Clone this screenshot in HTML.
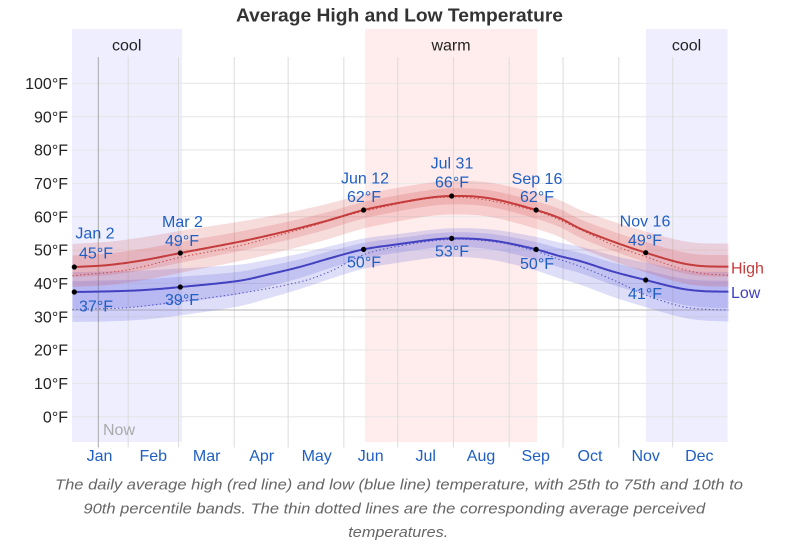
<!DOCTYPE html>
<html>
<head>
<meta charset="utf-8">
<style>
  html, body { margin: 0; padding: 0; background: #fff; }
  body { width: 800px; height: 559px; overflow: hidden; }
  svg { display: block; }
  text { font-family: "Liberation Sans", Arial, sans-serif; }
</style>
</head>
<body>
<svg id="chart" width="800" height="559" viewBox="0 0 800 559" xmlns="http://www.w3.org/2000/svg">
  <!-- season bands -->
  <rect x="72" y="29" width="110" height="413" fill="#eeeeff"/>
  <rect x="365" y="29" width="172" height="413" fill="#ffeded"/>
  <rect x="646" y="29" width="81.5" height="413" fill="#eeeeff"/>
  <text x="126.7" y="50.5" font-size="16" text-anchor="middle" fill="#222">cool</text>
  <text x="451" y="50.5" font-size="16" text-anchor="middle" fill="#222">warm</text>
  <text x="686.5" y="50.5" font-size="16" text-anchor="middle" fill="#222">cool</text>

  <!-- title -->
  <text x="399.5" y="21.5" font-size="18" font-weight="bold" text-anchor="middle" fill="#333" textLength="327" lengthAdjust="spacingAndGlyphs">Average High and Low Temperature</text>

  <g id="grid"></g>
  <g id="data"></g>

  <!-- y axis labels -->
  <g font-size="16" fill="#222" text-anchor="end">
    <text x="68" y="89">100°F</text>
    <text x="68" y="122.4">90°F</text>
    <text x="68" y="155.7">80°F</text>
    <text x="68" y="189">70°F</text>
    <text x="68" y="222.4">60°F</text>
    <text x="68" y="255.7">50°F</text>
    <text x="68" y="289">40°F</text>
    <text x="68" y="322.4">30°F</text>
    <text x="68" y="355.7">20°F</text>
    <text x="68" y="389">10°F</text>
    <text x="68" y="422.4">0°F</text>
  </g>

  <!-- month labels -->
  <g font-size="16" fill="#1f5fc4" text-anchor="middle">
    <text x="99.5" y="461">Jan</text>
    <text x="153.3" y="461">Feb</text>
    <text x="206.7" y="461">Mar</text>
    <text x="261.7" y="461">Apr</text>
    <text x="316.7" y="461">May</text>
    <text x="370.7" y="461">Jun</text>
    <text x="425.7" y="461">Jul</text>
    <text x="481" y="461">Aug</text>
    <text x="535.7" y="461">Sep</text>
    <text x="590" y="461">Oct</text>
    <text x="645.7" y="461">Nov</text>
    <text x="699.3" y="461">Dec</text>
  </g>

  <text x="103" y="435" font-size="16" fill="#aaa">Now</text>

  <!-- point labels -->
  <g font-size="16" fill="#1f5fc4" text-anchor="middle">
    <text x="95" y="238.5">Jan 2</text>
    <text x="96" y="258.5">45°F</text>
    <text x="96" y="311.5">37°F</text>

    <text x="182.5" y="227">Mar 2</text>
    <text x="182" y="246">49°F</text>
    <text x="182" y="304.8">39°F</text>

    <text x="365" y="183.5">Jun 12</text>
    <text x="364" y="202">62°F</text>
    <text x="364" y="267.5">50°F</text>

    <text x="452" y="168.5">Jul 31</text>
    <text x="452" y="187.5">66°F</text>
    <text x="452" y="256.5">53°F</text>

    <text x="537" y="183.8">Sep 16</text>
    <text x="537" y="202.2">62°F</text>
    <text x="537" y="268.8">50°F</text>

    <text x="645" y="226.5">Nov 16</text>
    <text x="645" y="245.5">49°F</text>
    <text x="645" y="298.8">41°F</text>
  </g>

  <text x="731" y="273.3" font-size="16" fill="#c43c3c">High</text>
  <text x="731" y="297.9" font-size="16" fill="#4040bb">Low</text>

  <!-- caption -->
  <g font-size="15" font-style="italic" fill="#666" text-anchor="middle">
    <text x="399" y="489.5" textLength="688" lengthAdjust="spacingAndGlyphs">The daily average high (red line) and low (blue line) temperature, with 25th to 75th and 10th to</text>
    <text x="394.3" y="513.5" textLength="621.7" lengthAdjust="spacingAndGlyphs">90th percentile bands. The thin dotted lines are the corresponding average perceived</text>
    <text x="398.3" y="537" textLength="100" lengthAdjust="spacingAndGlyphs">temperatures.</text>
  </g>
</svg>

<script>
(function(){
  var NS = "http://www.w3.org/2000/svg";
  var X = function(d){ return 72.5 + d*1.797; };
  var Y = function(t){ return 416.7 - t*10/3; };

  function el(parent, name, attrs){
    var e = document.createElementNS(NS, name);
    for (var k in attrs) e.setAttribute(k, attrs[k]);
    parent.appendChild(e);
    return e;
  }

  var grid = document.getElementById("grid");
  // horizontal gridlines
  for (var t = 0; t <= 100; t += 10) {
    el(grid, "line", {x1:72, x2:727.5, y1:Y(t), y2:Y(t), stroke:"#e6e6e6", "stroke-width":1});
  }
  // vertical month lines
  var starts = [31,59,90,120,151,181,212,243,273,304,334];
  starts.forEach(function(d){
    var x = X(d);
    el(grid, "line", {x1:x, x2:x, y1:57, y2:447.5, stroke:"#dcdcdc", "stroke-width":1});
  });
  // now line
  el(grid, "line", {x1:98.3, x2:98.3, y1:57, y2:447.5, stroke:"#a8a8a8", "stroke-width":1});
  // freezing line
  el(grid, "line", {x1:72, x2:727.5, y1:Y(32), y2:Y(32), stroke:"#b4b4b4", "stroke-width":1});

  function interp(pts){
    var n = pts.length, xs = pts.map(function(p){return p[0];}), ys = pts.map(function(p){return p[1];});
    var m = [];
    for (var i = 0; i < n; i++) {
      if (i === 0) m.push((ys[1]-ys[0])/(xs[1]-xs[0]));
      else if (i === n-1) m.push((ys[n-1]-ys[n-2])/(xs[n-1]-xs[n-2]));
      else m.push((ys[i+1]-ys[i-1])/(xs[i+1]-xs[i-1]));
    }
    return function(x){
      var i = 0;
      while (i < n-2 && x > xs[i+1]) i++;
      var h = xs[i+1]-xs[i], s = (x-xs[i])/h;
      var s2 = s*s, s3 = s2*s;
      return (2*s3-3*s2+1)*ys[i] + (s3-2*s2+s)*h*m[i] + (-2*s3+3*s2)*ys[i+1] + (s3-s2)*h*m[i+1];
    };
  }

  var high = interp([[0,44.9],[1,44.9],[20,45.5],[40,47],[60,49.1],[93,52.5],[110,54.5],[127,56.7],[143,59],[162,62],[182,64.2],[200,65.8],[211,66.2],[225,66],[238,64.9],[258,62],[271,59.6],[283,56.3],[301,52.5],[319,49.2],[338,46.2],[350,45.2],[365,45]]);
  var low = interp([[0,37.4],[20,37.6],[40,38],[60,38.9],[93,40.8],[110,42.8],[127,45],[143,47.5],[162,50.2],[182,51.8],[200,53.1],[211,53.5],[225,53.3],[238,52.5],[258,50.2],[271,48.2],[283,46.6],[301,43.5],[319,41],[338,38.5],[350,37.7],[365,37.5]]);
  var phigh = interp([[0,42.3],[30,44],[60,47.8],[93,51.3],[127,56.2],[162,61.6],[211,65.9],[258,61.7],[283,56],[301,51.5],[319,48],[338,44.5],[350,43],[365,42.4]]);
  var plow = interp([[0,32.2],[30,32.7],[60,34.6],[93,37],[127,40.5],[143,43.5],[162,48.6],[182,51.2],[211,53.2],[238,52.2],[258,49.6],[271,47.2],[283,45],[301,41],[319,36.5],[338,33.2],[350,32.3],[365,32]]);

  function w(d){ return (1 + Math.cos(2*Math.PI*(d-15)/365))/2; }

  function linePath(f){
    var s = "";
    for (var d = 0; d <= 365; d++) s += (d ? "L" : "M") + X(d).toFixed(2) + "," + Y(f(d)).toFixed(2);
    return s;
  }
  function bandPath(f, top, bot){
    var s = "";
    for (var d = 0; d <= 365; d++) s += (d ? "L" : "M") + X(d).toFixed(2) + "," + Y(f(d)+top(d)).toFixed(2);
    for (var d2 = 365; d2 >= 0; d2--) s += "L" + X(d2).toFixed(2) + "," + Y(f(d2)+bot(d2)).toFixed(2);
    return s + "Z";
  }

  var data = document.getElementById("data");
  // low bands
  el(data, "path", {d: bandPath(low, function(d){return 3+3*w(d);}, function(d){return -(5.5+3.5*w(d));}), fill:"rgba(90,90,220,0.2)"});
  el(data, "path", {d: bandPath(low, function(d){return 1.8+1.5*w(d);}, function(d){return -(2.5+2.5*w(d));}), fill:"rgba(90,90,220,0.2)"});
  // high bands
  el(data, "path", {d: bandPath(high, function(d){return 4.5+2.5*w(d);}, function(d){return -(5.5+0.5*w(d));}), fill:"rgba(215,70,70,0.19)"});
  el(data, "path", {d: bandPath(high, function(d){return 2.3+1.2*w(d);}, function(d){return -(2.5+0.5*w(d));}), fill:"rgba(215,70,70,0.19)"});

  // perceived dotted
  el(data, "path", {d: linePath(plow), fill:"none", stroke:"#4a4ac4", "stroke-width":1, "stroke-dasharray":"1.3 2.5"});
  el(data, "path", {d: linePath(phigh), fill:"none", stroke:"#c84040", "stroke-width":1, "stroke-dasharray":"1.3 2.5"});

  // main lines
  el(data, "path", {d: linePath(low), fill:"none", stroke:"#4242c0", "stroke-width":2});
  el(data, "path", {d: linePath(high), fill:"none", stroke:"#c43c3c", "stroke-width":2});

  // dots
  [1,60,162,211,258,319].forEach(function(d){
    el(data, "circle", {cx:X(d), cy:Y(high(d)), r:2.6, fill:"#000"});
    el(data, "circle", {cx:X(d), cy:Y(low(d)), r:2.6, fill:"#000"});
  });
})();
</script>
</body>
</html>
